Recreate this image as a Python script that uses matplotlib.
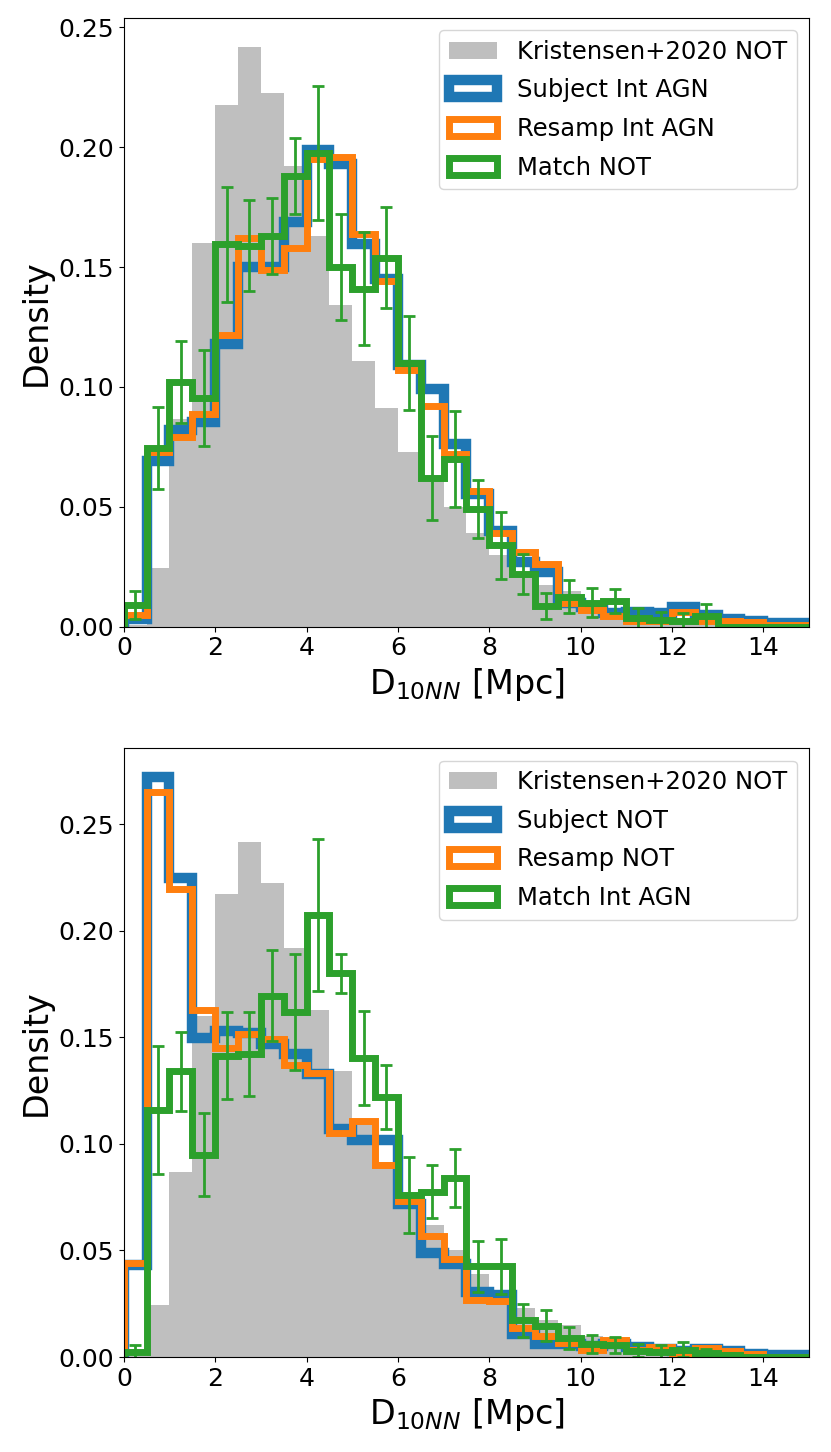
import numpy as np
import matplotlib
matplotlib.use("Agg")
import matplotlib.pyplot as plt

# bin edges: 0 to 15 Mpc in 0.5 Mpc steps
bin_edges = np.arange(0, 15.01, 0.5)
bin_centers = 0.5 * (bin_edges[:-1] + bin_edges[1:])

# Kristensen+2020 NOT reference (same in both panels)
kristensen_not = [0.0005, 0.0246, 0.0866, 0.160, 0.2175, 0.2418, 0.2225, 0.192, 0.163, 0.134,
                  0.111, 0.0914, 0.073, 0.062, 0.050, 0.039, 0.030, 0.023, 0.0175, 0.015,
                  0.010, 0.0078, 0.0058, 0.0045, 0.0035, 0.0027, 0.002, 0.0017, 0.0013, 0.0011]

# top panel
subject_int_agn = [0.003, 0.069, 0.082, 0.0855, 0.118, 0.150, 0.150, 0.169, 0.199, 0.193,
                   0.1595, 0.145, 0.109, 0.099, 0.076, 0.0555, 0.040, 0.027, 0.023, 0.010,
                   0.008, 0.0055, 0.006, 0.0055, 0.0081, 0.005, 0.003, 0.0025, 0.0015, 0.0015]
resamp_int_agn = [0.005, 0.073, 0.079, 0.0887, 0.1215, 0.162, 0.149, 0.158, 0.195, 0.196,
                  0.164, 0.144, 0.107, 0.092, 0.072, 0.0565, 0.039, 0.031, 0.026, 0.010,
                  0.007, 0.0045, 0.0025, 0.0025, 0.006, 0.0025, 0.0025, 0.002, 0.0008, 0.0005]
match_not = [0.009, 0.0745, 0.102, 0.0955, 0.1595, 0.159, 0.163, 0.188, 0.1977, 0.150,
             0.141, 0.154, 0.110, 0.062, 0.070, 0.049, 0.034, 0.022, 0.0085, 0.0125,
             0.010, 0.0108, 0.0036, 0.0028, 0.0025, 0.0043, 0.0, 0.0, 0.0, 0.0]
match_not_err = [0.006, 0.017, 0.017, 0.020, 0.024, 0.019, 0.016, 0.016, 0.028, 0.022,
                 0.0235, 0.021, 0.0195, 0.0175, 0.020, 0.012, 0.014, 0.0085, 0.0055, 0.0068,
                 0.006, 0.005, 0.004, 0.0035, 0.003, 0.005, 0.0, 0.0, 0.0, 0.0]

# bottom panel
subject_not = [0.043, 0.272, 0.225, 0.1495, 0.153, 0.152, 0.1467, 0.142, 0.133, 0.107,
               0.102, 0.102, 0.072, 0.0486, 0.0435, 0.0305, 0.029, 0.011, 0.0063, 0.006,
               0.005, 0.006, 0.0045, 0.004, 0.003, 0.004, 0.003, 0.0015, 0.001, 0.001]
resamp_not = [0.044, 0.265, 0.2195, 0.163, 0.145, 0.1514, 0.1493, 0.137, 0.1334, 0.105,
              0.111, 0.090, 0.073, 0.0566, 0.046, 0.0268, 0.0265, 0.0137, 0.0097, 0.0065,
              0.0035, 0.0082, 0.0035, 0.0046, 0.0015, 0.0043, 0.0027, 0.0012, 0.0, 0.0]
match_int_agn = [0.0025, 0.116, 0.134, 0.095, 0.1415, 0.1424, 0.1696, 0.1619, 0.2074, 0.180,
                 0.1404, 0.1222, 0.076, 0.0776, 0.0839, 0.0425, 0.0425, 0.0172, 0.0148, 0.0089,
                 0.0062, 0.0058, 0.003, 0.0025, 0.0035, 0.002, 0.001, 0.0, 0.0, 0.0]
match_int_agn_err = [0.003, 0.030, 0.0186, 0.0195, 0.0204, 0.0197, 0.0212, 0.0272, 0.0355, 0.0092,
                     0.022, 0.015, 0.018, 0.0124, 0.0137, 0.012, 0.013, 0.0077, 0.0073, 0.0053,
                     0.0042, 0.0038, 0.003, 0.003, 0.0037, 0.002, 0.001, 0.0, 0.0, 0.0]

panels = [
    ("Subject Int AGN", subject_int_agn, "Resamp Int AGN", resamp_int_agn,
     "Match NOT", match_not, match_not_err),
    ("Subject NOT", subject_not, "Resamp NOT", resamp_not,
     "Match Int AGN", match_int_agn, match_int_agn_err),
]

fig, axes = plt.subplots(2, 1, figsize=(8.31, 14.52), dpi=100)
plt.subplots_adjust(left=0.149, right=0.9735, top=0.9876, bottom=0.0654, hspace=0.2)

for ax, (lab_s, subj, lab_r, resamp, lab_m, match, match_err) in zip(axes, panels):
    ax.hist(bin_centers, bins=bin_edges, weights=kristensen_not, color="gray", alpha=0.5,
            label="Kristensen+2020 NOT")
    ax.hist(bin_centers, bins=bin_edges, weights=subj, histtype="step", color="C0",
            linewidth=7.5, label=lab_s)
    ax.hist(bin_centers, bins=bin_edges, weights=resamp, histtype="step", color="C1",
            linewidth=5, label=lab_r)
    ax.hist(bin_centers, bins=bin_edges, weights=match, histtype="step", color="C2",
            linewidth=5, label=lab_m)
    ax.errorbar(bin_centers, match, yerr=match_err, fmt="none", ecolor="C2",
                elinewidth=2, capsize=4, capthick=2)
    ax.set_xlim(0, 15)
    ax.set_ylim(bottom=0)
    ax.set_ylabel("Density", fontsize=24)
    ax.set_xlabel(r"D$_{10NN}$ [Mpc]", fontsize=24)
    ax.tick_params(labelsize=18)
    ax.legend(loc="upper right", fontsize=17.5, labelspacing=0.6)

plt.savefig("out.png", dpi=100)
